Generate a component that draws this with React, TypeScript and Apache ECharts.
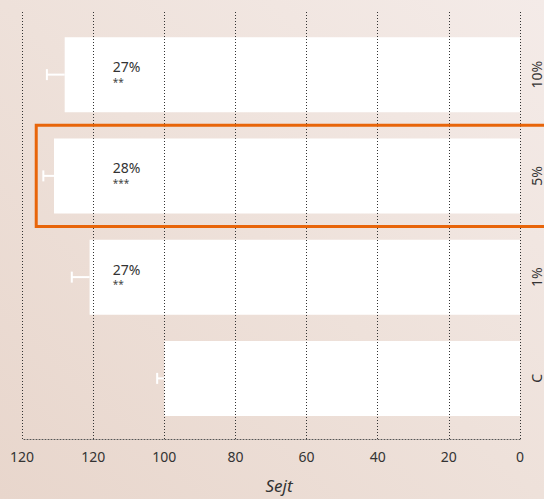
import React, { useEffect, useRef } from "react";
import * as echarts from "echarts";

const categories = ["C", "1%", "5%", "10%"];
const values = [100, 121, 131, 128];
const errUpper = [102, 126, 134, 133];
const pctLabels = ["", "27%", "28%", "27%"];
const sigLabels = ["", "**", "***", "**"];
const tickLabels = ["0", "20", "40", "60", "80", "100", "120", "120"];
const highlightCategory = "5%";

const AXIS_MAX = 140;
const LABEL_AT = 114.5;
const HIGHLIGHT_FROM = 136;
const FONT = "'Noto Sans', 'Open Sans', sans-serif";

export default function App() {
  const ref = useRef<HTMLDivElement>(null);
  useEffect(() => {
    if (!ref.current) return;
    const chart = echarts.init(ref.current, undefined, { renderer: "svg" });
    const hiIdx = categories.indexOf(highlightCategory);
    chart.setOption({
      animation: false,
      backgroundColor: new echarts.graphic.LinearGradient(0, 1, 1, 0, [
        { offset: 0, color: "#E8D6CC" },
        { offset: 0.5, color: "#EEE1DA" },
        { offset: 1, color: "#F4EBE8" },
      ]),
      textStyle: { fontFamily: FONT },
      grid: [
        { left: 22, right: 24, top: 24, height: 405 },
        { left: 22, right: 24, top: 12, height: 429 },
      ],
      xAxis: [
        { gridIndex: 0, type: "value", inverse: true, min: 0, max: AXIS_MAX, show: false },
        {
          gridIndex: 1,
          type: "value",
          inverse: true,
          min: 0,
          max: AXIS_MAX,
          interval: 20,
          z: 10,
          axisLine: { show: true, lineStyle: { color: "#555", type: [1, 2], width: 1 } },
          axisTick: { show: false },
          axisLabel: {
            color: "#333",
            fontSize: 14,
            margin: 10,
            fontFamily: FONT,
            formatter: (v: number) => tickLabels[Math.round(v / 20)] ?? "",
          },
          splitLine: { show: true, lineStyle: { color: "#333", type: [1, 2], width: 1 } },
          name: "Sejt",
          nameLocation: "middle",
          nameGap: 38,
          nameTextStyle: {
            fontStyle: "italic",
            fontSize: 17,
            color: "#333",
            fontFamily: FONT,
            padding: [0, 0, 0, 16],
          },
        },
      ],
      yAxis: [
        {
          gridIndex: 0,
          type: "category",
          data: categories,
          position: "right",
          axisLine: { show: false },
          axisTick: { show: false },
          axisLabel: {
            rotate: 90,
            margin: 9,
            fontSize: 14,
            lineHeight: 14,
            color: "#333",
            fontFamily: FONT,
          },
          splitLine: { show: false },
        },
        { gridIndex: 1, type: "value", min: 0, max: 1, show: false },
      ],
      series: [
        {
          type: "bar",
          xAxisIndex: 0,
          yAxisIndex: 0,
          data: values,
          barWidth: 75,
          itemStyle: { color: "#FFFFFF" },
          z: 2,
        },
        {
          type: "custom",
          xAxisIndex: 0,
          yAxisIndex: 0,
          z: 5,
          data: categories.map((c, i) => [values[i], i, errUpper[i]]),
          encode: { x: [0, 2], y: 1 },
          renderItem: (params: any, api: any) => {
            const p0 = api.coord([api.value(0), api.value(1)]);
            const p1 = api.coord([api.value(2), api.value(1)]);
            return {
              type: "group",
              children: [
                {
                  type: "line",
                  shape: { x1: p0[0], y1: p0[1], x2: p1[0], y2: p1[1] },
                  style: { stroke: "#FFFFFF", lineWidth: 2 },
                },
                {
                  type: "line",
                  shape: { x1: p1[0], y1: p1[1] - 5.5, x2: p1[0], y2: p1[1] + 5.5 },
                  style: { stroke: "#FFFFFF", lineWidth: 2 },
                },
              ],
            };
          },
        },
        {
          type: "custom",
          xAxisIndex: 0,
          yAxisIndex: 0,
          z: 15,
          data: categories.map((c, i) => [LABEL_AT, i]),
          encode: { x: 0, y: 1 },
          renderItem: (params: any, api: any) => {
            const i = params.dataIndex;
            const p = api.coord([api.value(0), api.value(1)]);
            return {
              type: "group",
              children: [
                {
                  type: "text",
                  x: p[0],
                  y: p[1] - 8,
                  style: {
                    text: pctLabels[i],
                    fill: "#333",
                    fontSize: 14,
                    lineHeight: 14,
                    fontFamily: FONT,
                    align: "left",
                    verticalAlign: "middle",
                  },
                },
                {
                  type: "text",
                  x: p[0],
                  y: p[1] + 7,
                  style: {
                    text: sigLabels[i],
                    fill: "#444",
                    fontSize: 10,
                    lineHeight: 10,
                    fontFamily: FONT,
                    align: "left",
                    verticalAlign: "middle",
                  },
                },
              ],
            };
          },
        },
        {
          type: "custom",
          xAxisIndex: 0,
          yAxisIndex: 0,
          z: 20,
          clip: false,
          data: [[HIGHLIGHT_FROM, hiIdx]],
          encode: { x: 0, y: 1 },
          renderItem: (params: any, api: any) => {
            const p = api.coord([api.value(0), api.value(1)]);
            const size = api.size([0, 1]);
            return {
              type: "rect",
              shape: { x: p[0], y: p[1] - size[1] / 2, width: 600, height: size[1] },
              style: { fill: "none", stroke: "#E8650A", lineWidth: 3 },
            };
          },
        },
      ],
    });
    return () => chart.dispose();
  }, []);
  return (
    <div
      ref={ref}
      style={{ position: "fixed", left: 0, top: 0, width: 544, height: 499 }}
    />
  );
}
